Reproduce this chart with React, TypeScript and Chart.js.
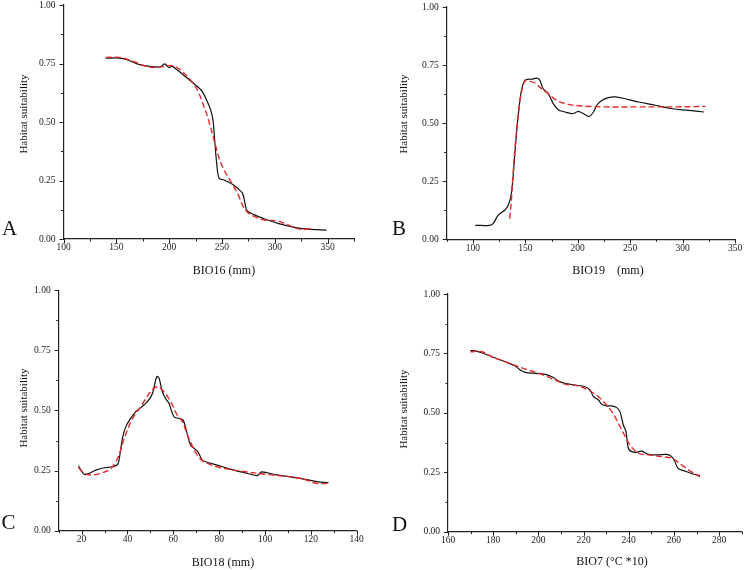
import React, { useEffect, useRef } from "react";
import { Chart, registerables } from "chart.js";

Chart.register(...registerables);

// ---------- DATA ----------
// Panel A: BIO16
const aBlackX = [140, 153, 160, 172, 182, 191.5, 195.7, 199.6, 202.7, 207.5, 217, 226.6, 231.4, 236.1, 239.3, 241.5, 243.1, 245, 247.3, 252, 258.4, 264.8, 269.5, 271.8, 273.7, 280.7, 290.2, 302.9, 318.8, 334.7, 349];
const aBlackY = [0.773, 0.773, 0.766, 0.745, 0.738, 0.735, 0.748, 0.733, 0.738, 0.723, 0.688, 0.652, 0.63, 0.588, 0.552, 0.509, 0.424, 0.324, 0.26, 0.252, 0.238, 0.217, 0.195, 0.153, 0.121, 0.103, 0.086, 0.067, 0.05, 0.041, 0.038];
const aRedX = [140, 153.4, 166, 178.9, 188.4, 198, 204.3, 212.3, 220.2, 226.6, 233, 237.7, 242.5, 247.3, 252, 258.4, 264.8, 271.1, 277.5, 290.2, 303, 312.5, 325.2, 336.3];
const aRedY = [0.776, 0.776, 0.759, 0.737, 0.733, 0.74, 0.74, 0.716, 0.68, 0.638, 0.566, 0.502, 0.424, 0.345, 0.295, 0.245, 0.195, 0.131, 0.103, 0.081, 0.077, 0.06, 0.041, 0.047];

// Panel B: BIO19
const bBlackX = [102.2, 116, 119.2, 124, 130.3, 133.5, 136.1, 138.3, 140.5, 143.1, 146.3, 149.5, 152.7, 155.9, 161.3, 163.9, 167, 171.8, 176.6, 181.4, 187.8, 194.2, 197.4, 200.6, 207, 210.8, 215, 218.1, 222.9, 229.3, 235.7, 245.3, 258, 274, 290, 306, 320.3];
const bBlackY = [0.06, 0.06, 0.067, 0.103, 0.125, 0.146, 0.182, 0.268, 0.397, 0.527, 0.641, 0.684, 0.689, 0.689, 0.694, 0.684, 0.648, 0.627, 0.584, 0.558, 0.548, 0.541, 0.544, 0.551, 0.537, 0.529, 0.548, 0.577, 0.598, 0.61, 0.613, 0.605, 0.591, 0.577, 0.562, 0.555, 0.548];
const bRedX = [135.1, 136.7, 138.3, 140.5, 143.7, 146.9, 150.1, 154.3, 159.1, 165.5, 171.8, 179.8, 191, 203.8, 226.1, 258, 290, 321.9];
const bRedY = [0.089, 0.168, 0.283, 0.412, 0.555, 0.648, 0.684, 0.68, 0.673, 0.648, 0.627, 0.598, 0.581, 0.574, 0.57, 0.57, 0.57, 0.572];

// Panel C: BIO18
const cBlackX = [18.6, 19.7, 21.2, 23.3, 26.2, 29.9, 33.5, 35.7, 36.7, 37.8, 39.3, 41.4, 43.6, 45.8, 48.7, 50.9, 52.8, 53.8, 55.2, 57, 58.1, 60.3, 62.5, 64.3, 65.8, 67.5, 69, 70.7, 72.6, 74.1, 79.1, 86.4, 92.2, 96.5, 97.7, 98.7, 105.2, 115.4, 122.6, 127.7];
const cBlackY = [0.27, 0.252, 0.234, 0.239, 0.252, 0.262, 0.266, 0.276, 0.315, 0.384, 0.433, 0.467, 0.495, 0.512, 0.537, 0.571, 0.641, 0.634, 0.578, 0.544, 0.53, 0.474, 0.467, 0.46, 0.412, 0.356, 0.343, 0.329, 0.294, 0.287, 0.273, 0.252, 0.239, 0.229, 0.239, 0.245, 0.232, 0.218, 0.204, 0.2];
const cRedX = [18.6, 21.2, 24.1, 28.4, 32.8, 35.7, 38.6, 42.2, 45.8, 50.1, 53, 55.9, 58.8, 61.7, 63.9, 66.8, 70.4, 73.3, 79.1, 86.4, 100.9, 115.4, 122.6, 127.7];
const cRedY = [0.262, 0.239, 0.232, 0.239, 0.259, 0.301, 0.384, 0.467, 0.516, 0.578, 0.599, 0.578, 0.537, 0.481, 0.454, 0.384, 0.315, 0.287, 0.266, 0.252, 0.234, 0.218, 0.197, 0.197];

// Panel D: BIO7
const dBlackX = [169.9, 171.3, 175, 179.4, 185.3, 189.7, 192, 194.2, 198.6, 203, 206, 208.9, 211.8, 216.3, 220.7, 222.9, 224.4, 226.6, 228, 230.2, 232.5, 234.7, 236.1, 237.6, 238.8, 239.8, 241.3, 243.5, 245.7, 248.7, 253.1, 256.8, 259, 260.4, 261.9, 264.9, 267.8, 271.5];
const dBlackY = [0.762, 0.762, 0.753, 0.736, 0.715, 0.697, 0.68, 0.67, 0.666, 0.662, 0.652, 0.634, 0.624, 0.617, 0.61, 0.596, 0.568, 0.554, 0.536, 0.529, 0.529, 0.522, 0.505, 0.449, 0.421, 0.351, 0.337, 0.334, 0.339, 0.325, 0.323, 0.325, 0.316, 0.295, 0.266, 0.255, 0.245, 0.236];
const dRedX = [169.9, 175, 179.4, 185.3, 191.2, 195.6, 201.5, 207.4, 211.8, 217.7, 222.1, 226.6, 232.5, 236.9, 240.6, 244.2, 248.7, 254.5, 259, 263.4, 267.8, 271.5];
const dRedY = [0.757, 0.757, 0.736, 0.715, 0.694, 0.68, 0.662, 0.638, 0.621, 0.613, 0.596, 0.568, 0.505, 0.428, 0.365, 0.33, 0.323, 0.316, 0.309, 0.281, 0.252, 0.231];

// Axis ranges / tick steps: [min, max, minor step, labelled step]
const aXRange = [100, 375, 25, 50];
const bXRange = [75, 350, 25, 50];
const cXRange = [10, 140, 10, 20];
const dXRange = [160, 290, 10, 20];
const yRange = [0, 1, 0.125, 0.25];

const xTitles = ["BIO16 (mm)", "BIO19\u00a0\u00a0\u00a0\u00a0(mm)", "BIO18 (mm)", "BIO7 (\u00b0C *10)"];
const yTitle = "Habitat suitability";
const letters = ["A", "B", "C", "D"];

const FONT = "'Liberation Serif', 'Times New Roman', serif";
const W = 372;
const H = 285;

const zip = (xs: number[], ys: number[]) => xs.map((x, i) => ({ x, y: ys[i] }));
const isMultiple = (v: number, step: number) => Math.abs(v / step - Math.round(v / step)) < 1e-6;

type PanelCfg = {
  left: number;
  top: number;
  area: { l: number; t: number; r: number; b: number };
  xr: number[];
  black: { x: number; y: number }[];
  red: { x: number; y: number }[];
};

const panels: PanelCfg[] = [
  { left: 0, top: 0, area: { l: 63.5, t: 5, r: 354, b: 239 }, xr: aXRange, black: zip(aBlackX, aBlackY), red: zip(aRedX, aRedY) },
  { left: 372, top: 0, area: { l: 74.7, t: 7, r: 363, b: 239.3 }, xr: bXRange, black: zip(bBlackX, bBlackY), red: zip(bRedX, bRedY) },
  { left: 0, top: 285, area: { l: 58.7, t: 5.3, r: 356.7, b: 245.7 }, xr: cXRange, black: zip(cBlackX, cBlackY), red: zip(cRedX, cRedY) },
  { left: 372, top: 285, area: { l: 76, t: 9, r: 369.7, b: 246.7 }, xr: dXRange, black: zip(dBlackX, dBlackY), red: zip(dRedX, dRedY) },
];

// title/letter positions (page coords, centers)
const labelPos = [
  { yt: [22.5, 114], xt: [224, 270], lt: [9.5, 228] },
  { yt: [403, 114], xt: [608, 270], lt: [399, 228] },
  { yt: [22.5, 408], xt: [223, 562], lt: [8.5, 522] },
  { yt: [403, 409], xt: [612, 561], lt: [399.5, 524] },
];

const tickPlugin = {
  id: "manualTicks",
  afterDraw(chart: any) {
    const ctx = chart.ctx;
    const xs = chart.scales.x;
    const ys = chart.scales.y;
    const xr = chart.options.plugins.manualTicks.xr as number[];
    ctx.save();
    ctx.strokeStyle = "#222";
    ctx.lineWidth = 1;
    const bottom = chart.chartArea.bottom;
    const left = chart.chartArea.left;
    for (let v = xr[0]; v <= xr[1] + 1e-6; v += xr[2]) {
      const px = Math.round(xs.getPixelForValue(v)) + 0.5;
      const len = isMultiple(v, xr[3]) ? 4 : 2.5;
      ctx.beginPath();
      ctx.moveTo(px, bottom);
      ctx.lineTo(px, bottom + len);
      ctx.stroke();
    }
    for (let v = yRange[0]; v <= yRange[1] + 1e-6; v += yRange[2]) {
      const py = Math.round(ys.getPixelForValue(v)) + 0.5;
      const len = isMultiple(v, yRange[3]) ? 4 : 2.5;
      ctx.beginPath();
      ctx.moveTo(left, py);
      ctx.lineTo(left - len, py);
      ctx.stroke();
    }
    ctx.restore();
  },
};

function Panel({ cfg }: { cfg: PanelCfg }) {
  const ref = useRef<HTMLCanvasElement | null>(null);
  useEffect(() => {
    if (!ref.current) return;
    const a = cfg.area;
    const chart = new Chart(ref.current, {
      type: "line",
      data: {
        datasets: [
          {
            data: cfg.red,
            borderColor: "#e8282a",
            borderWidth: 1.4,
            borderDash: [6, 3],
            pointRadius: 0,
            tension: 0.35,
            fill: false,
          },
          {
            data: cfg.black,
            borderColor: "#111",
            borderWidth: 1.2,
            pointRadius: 0,
            tension: 0.35,
            fill: false,
          },
        ],
      },
      options: {
        animation: false,
        responsive: false,
        devicePixelRatio: 1,
        layout: { padding: { left: 0, top: a.t, right: W - a.r, bottom: 0 } },
        plugins: {
          legend: { display: false },
          tooltip: { enabled: false },
          manualTicks: { xr: cfg.xr },
        } as any,
        scales: {
          x: {
            type: "linear",
            min: cfg.xr[0],
            max: cfg.xr[1],
            grid: { display: false, drawTicks: false },
            border: { display: true, color: "#222", width: 1.2 },
            ticks: {
              stepSize: cfg.xr[2],
              autoSkip: false,
              maxRotation: 0,
              padding: 3,
              color: "#222",
              font: { family: FONT, size: 9.5 },
              callback: (v: any) => (isMultiple(Number(v), cfg.xr[3]) ? String(v) : ""),
            },
            afterFit: (s: any) => {
              s.height = H - a.b;
              s.paddingLeft = 0;
              s.paddingRight = 0;
            },
          },
          y: {
            type: "linear",
            min: yRange[0],
            max: yRange[1],
            grid: { display: false, drawTicks: false },
            border: { display: true, color: "#222", width: 1.2 },
            ticks: {
              stepSize: yRange[2],
              autoSkip: false,
              padding: 8,
              color: "#222",
              font: { family: FONT, size: 9.5 },
              callback: (v: any) => (isMultiple(Number(v), yRange[3]) ? Number(v).toFixed(2) : ""),
            },
            afterFit: (s: any) => {
              s.width = a.l;
              s.paddingTop = 0;
              s.paddingBottom = 0;
            },
          },
        },
      } as any,
      plugins: [tickPlugin],
    });
    return () => chart.destroy();
  }, [cfg]);
  return (
    <canvas
      ref={ref}
      width={W}
      height={H}
      style={{ position: "absolute", left: cfg.left, top: cfg.top, width: W, height: H }}
    />
  );
}

export default function App() {
  const center: React.CSSProperties = {
    position: "absolute",
    transform: "translate(-50%, -50%)",
    fontFamily: FONT,
    color: "#111",
    whiteSpace: "pre",
    lineHeight: 1,
  };
  return (
    <div style={{ position: "fixed", left: 0, top: 0, width: 744, height: 570, background: "#fff", overflow: "hidden" }}>
      {panels.map((p, i) => (
        <Panel key={i} cfg={p} />
      ))}
      {labelPos.map((lp, i) => (
        <React.Fragment key={"t" + i}>
          <div style={{ ...center, left: lp.yt[0], top: lp.yt[1], fontSize: 11, transform: "translate(-50%, -50%) rotate(-90deg)" }}>
            {yTitle}
          </div>
          <div style={{ ...center, left: lp.xt[0], top: lp.xt[1], fontSize: 12 }}>{xTitles[i]}</div>
          <div style={{ ...center, left: lp.lt[0], top: lp.lt[1], fontSize: 21 }}>{letters[i]}</div>
        </React.Fragment>
      ))}
    </div>
  );
}
